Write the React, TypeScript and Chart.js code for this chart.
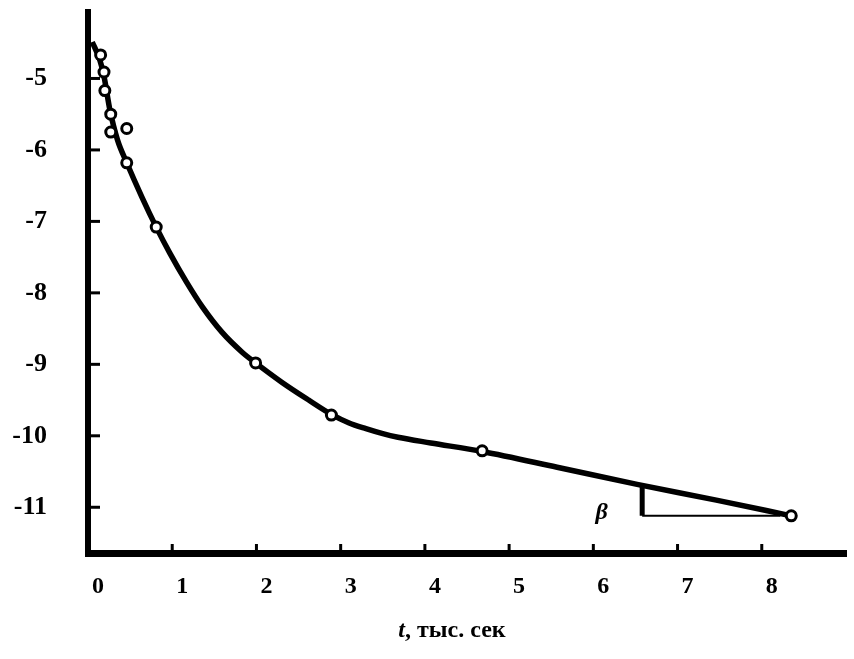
import React, { useEffect, useRef } from "react";
import { Chart, registerables } from "chart.js";

Chart.register(...registerables);

// Fitted curve
const curveT = [0.05, 0.14, 0.19, 0.26, 0.35, 0.46, 0.64, 0.81, 0.97, 1.17, 1.36, 1.59, 1.83, 1.99, 2.3, 2.62, 2.89, 3.1, 3.3, 3.5, 3.68, 4.07, 4.68, 5.57, 6.52, 7.46, 8.35];
const curveLg = [-4.49, -4.74, -4.97, -5.44, -5.86, -6.18, -6.66, -7.08, -7.44, -7.85, -8.2, -8.55, -8.83, -8.98, -9.25, -9.5, -9.7, -9.82, -9.9, -9.97, -10.02, -10.1, -10.22, -10.44, -10.68, -10.9, -11.12];

// Measured points (circles)
const pointT = [0.15, 0.19, 0.2, 0.27, 0.27, 0.46, 0.46, 0.81, 1.99, 2.89, 4.68, 8.35];
const pointLg = [-4.67, -4.91, -5.17, -5.5, -5.75, -5.7, -6.18, -7.08, -8.98, -9.71, -10.21, -11.12];

// Slope triangle (angle beta)
const triT = [6.58, 6.58, 8.22];
const triLg = [-10.7, -11.12, -11.12];

const xTicks = [0, 1, 2, 3, 4, 5, 6, 7, 8];
const yTicks = [-11, -10, -9, -8, -7, -6, -5];

const SERIF = '"Liberation Serif", "Times New Roman", serif';

const decorPlugin = {
  id: "decor",
  afterDraw(chart: any) {
    const ctx = chart.ctx;
    const xs = chart.scales.x;
    const ys = chart.scales.y;
    const area = chart.chartArea;
    ctx.save();
    ctx.strokeStyle = "#000";
    ctx.lineWidth = 3;
    // inner tick marks
    yTicks.forEach((v) => {
      const y = ys.getPixelForValue(v);
      ctx.beginPath();
      ctx.moveTo(area.left, y);
      ctx.lineTo(area.left + 12, y);
      ctx.stroke();
    });
    xTicks.slice(1).forEach((v) => {
      const x = xs.getPixelForValue(v);
      ctx.beginPath();
      ctx.moveTo(x, area.bottom);
      ctx.lineTo(x, area.bottom - 9);
      ctx.stroke();
    });
    // beta label
    ctx.fillStyle = "#000";
    ctx.textAlign = "center";
    ctx.textBaseline = "middle";
    ctx.font = `italic bold 24px ${SERIF}`;
    ctx.fillText("β", xs.getPixelForValue(6.1), ys.getPixelForValue(-11.08));
    // axis title
    ctx.textBaseline = "alphabetic";
    ctx.textAlign = "left";
    const y0 = 637;
    const p1 = "t";
    const p2 = ", тыс. сек";
    ctx.font = `italic bold 24px ${SERIF}`;
    const w1 = ctx.measureText(p1).width;
    ctx.font = `bold 24px ${SERIF}`;
    const w2 = ctx.measureText(p2).width;
    const startX = 452 - (w1 + w2) / 2;
    ctx.font = `italic bold 24px ${SERIF}`;
    ctx.fillText(p1, startX, y0);
    ctx.font = `bold 24px ${SERIF}`;
    ctx.fillText(p2, startX + w1, y0);
    ctx.restore();
  },
};

export default function App() {
  const ref = useRef<HTMLCanvasElement>(null);
  useEffect(() => {
    if (!ref.current) return;
    const chart = new Chart(ref.current, {
      type: "scatter",
      data: {
        datasets: [
          {
            data: curveT.map((t, i) => ({ x: t, y: curveLg[i] })),
            showLine: true,
            borderColor: "#000",
            borderWidth: 5.5,
            pointRadius: 0,
            cubicInterpolationMode: "monotone",
            order: 3,
          } as any,
          {
            data: [
              { x: triT[0], y: triLg[0] },
              { x: triT[1], y: triLg[1] },
            ],
            showLine: true,
            borderColor: "#000",
            borderWidth: 5,
            pointRadius: 0,
            order: 2,
          },
          {
            data: [
              { x: triT[1], y: triLg[1] },
              { x: triT[2], y: triLg[2] },
            ],
            showLine: true,
            borderColor: "#000",
            borderWidth: 2,
            pointRadius: 0,
            order: 2,
          },
          {
            data: pointT.map((t, i) => ({ x: t, y: pointLg[i] })),
            showLine: false,
            pointRadius: 5,
            pointBorderWidth: 3,
            pointBackgroundColor: "#fff",
            pointBorderColor: "#000",
            order: 1,
          },
        ],
      },
      options: {
        animation: false,
        responsive: false,
        devicePixelRatio: 1,
        layout: { padding: { top: 12, right: 4, left: 0, bottom: 0 } },
        plugins: { legend: { display: false }, tooltip: { enabled: false } },
        scales: {
          x: {
            type: "linear",
            min: 0,
            max: 9,
            afterFit: (axis: any) => {
              axis.height = 106;
              axis.paddingLeft = 0;
              axis.paddingRight = 0;
            },
            afterBuildTicks: (axis: any) => {
              axis.ticks = xTicks.map((v) => ({ value: v }));
            },
            grid: { display: false, drawTicks: false },
            border: { display: true, color: "#000", width: 7 },
            ticks: {
              color: "#000",
              padding: 19,
              labelOffset: 10,
              font: { family: SERIF, size: 24, weight: "bold" },
              callback: (v: any) => String(v),
            },
          },
          y: {
            type: "linear",
            min: -11.64,
            max: -4.07,
            afterFit: (axis: any) => {
              axis.width = 88;
              axis.paddingTop = 0;
              axis.paddingBottom = 0;
            },
            afterBuildTicks: (axis: any) => {
              axis.ticks = yTicks.map((v) => ({ value: v }));
            },
            grid: { display: false, drawTicks: false },
            border: { display: true, color: "#000", width: 6 },
            ticks: {
              color: "#000",
              padding: 41,
              font: { family: SERIF, size: 26, weight: "bold" },
              callback: (v: any) => String(v),
            },
          },
        },
      },
      plugins: [decorPlugin],
    });
    return () => chart.destroy();
  }, []);
  return (
    <div style={{ position: "fixed", left: 0, top: 0, width: 854, height: 659, background: "#fff" }}>
      <canvas ref={ref} width={854} height={659} style={{ width: 854, height: 659, display: "block" }} />
    </div>
  );
}
